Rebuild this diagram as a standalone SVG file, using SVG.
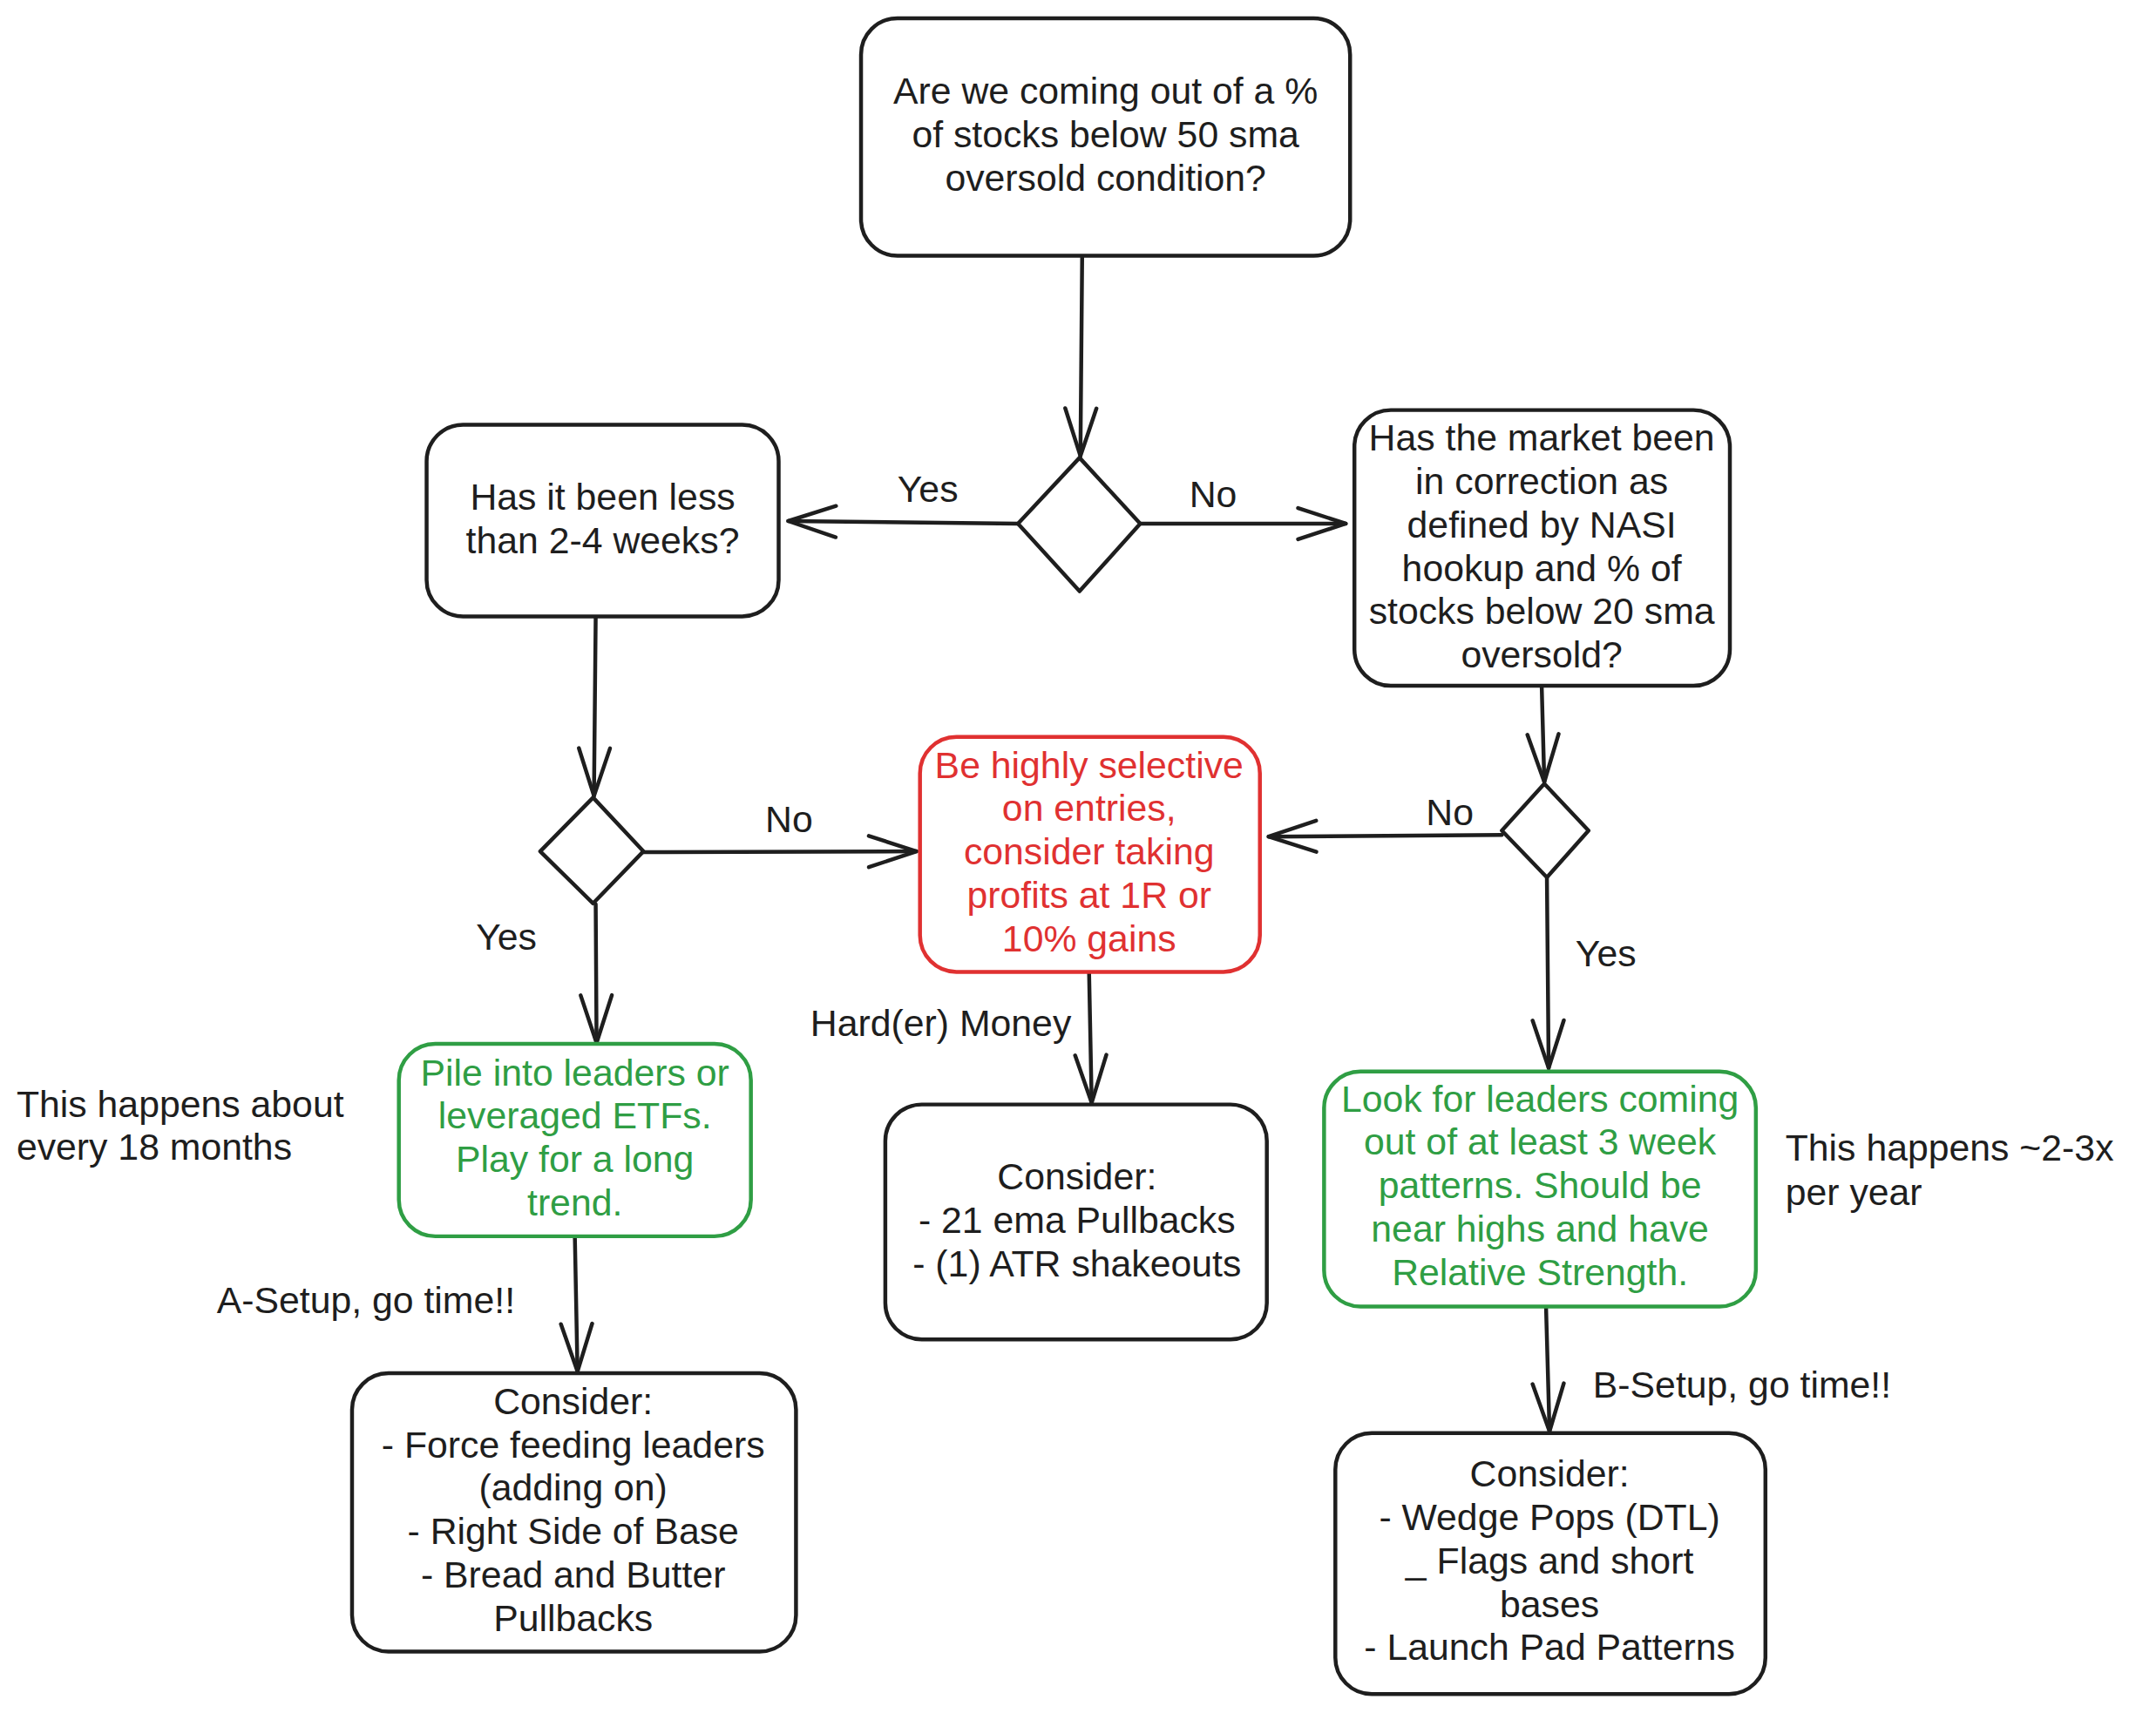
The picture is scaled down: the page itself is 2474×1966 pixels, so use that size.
<svg xmlns="http://www.w3.org/2000/svg" width="2474" height="1966" viewBox="0 0 2474 1966">
<style>
.bg{fill:#ffffff}
.box{fill:none;stroke:#1e1e1e;stroke-width:4.5;stroke-linejoin:round}
.gbox{fill:none;stroke:#2f9e44;stroke-width:4.5}
.rbox{fill:none;stroke:#e03131;stroke-width:4.5}
.t{font-family:"Liberation Sans","DejaVu Sans",sans-serif;font-size:43px;fill:#1e1e1e;text-anchor:middle}
.tl{text-anchor:start}
.g{fill:#2f9e44}
.r{fill:#e03131}
.c{fill:none;stroke:#1e1e1e;stroke-width:4.5;stroke-linecap:round}
</style>
<defs>
<marker id="ah" markerUnits="userSpaceOnUse" viewBox="-60 -25 70 50" refX="0" refY="0" markerWidth="70" markerHeight="50" orient="auto">
<path d="M -55 -18 L 0 0 L -55 18" fill="none" stroke="#1e1e1e" stroke-width="4.5" stroke-linecap="round" stroke-linejoin="round"/>
</marker>
</defs>
<rect class="bg" x="0" y="0" width="2474" height="1966"/>
<g id="diagram" transform="scale(0.995)">
<g id="connectors">
<line class="c" x1="1248" y1="297" x2="1246" y2="526" marker-end="url(#ah)"/>
<line class="c" x1="1174" y1="604" x2="909" y2="601" marker-end="url(#ah)"/>
<line class="c" x1="1315" y1="604" x2="1552" y2="604" marker-end="url(#ah)"/>
<line class="c" x1="687" y1="712" x2="685" y2="918" marker-end="url(#ah)"/>
<line class="c" x1="742" y1="983" x2="1057" y2="982" marker-end="url(#ah)"/>
<line class="c" x1="1778" y1="792" x2="1781" y2="902" marker-end="url(#ah)"/>
<line class="c" x1="1732" y1="963" x2="1463" y2="965" marker-end="url(#ah)"/>
<line class="c" x1="1784" y1="1013" x2="1786" y2="1232" marker-end="url(#ah)"/>
<line class="c" x1="687" y1="1043" x2="688" y2="1203" marker-end="url(#ah)"/>
<line class="c" x1="663" y1="1428" x2="666" y2="1582" marker-end="url(#ah)"/>
<line class="c" x1="1256" y1="1122" x2="1259" y2="1272" marker-end="url(#ah)"/>
<line class="c" x1="1783" y1="1508" x2="1787" y2="1651" marker-end="url(#ah)"/>
<text class="t" x="1070" y="579">Yes</text>
<text class="t" x="1399" y="585">No</text>
<text class="t" x="910" y="960">No</text>
<text class="t" x="1672" y="952">No</text>
<text class="t" x="1852" y="1115">Yes</text>
<text class="t" x="584" y="1095">Yes</text>
<text class="t" x="422" y="1515">A-Setup, go time!!</text>
<text class="t" x="1085" y="1195">Hard(er) Money</text>
<text class="t tl" x="1837" y="1612">B-Setup, go time!!</text>
</g>

<g id="n_top">
<rect class="box" x="993" y="21" width="564" height="274" rx="42"/>
<text class="t" x="1275" y="120">Are we coming out of a %</text>
<text class="t" x="1275" y="170">of stocks below 50 sma</text>
<text class="t" x="1275" y="220">oversold condition?</text>
</g>

<g id="n_d1">
<path class="box" d="M 1245 528 L 1315 604 L 1245 682 L 1174 604 Z"/>
</g>

<g id="n_less">
<rect class="box" x="492" y="490" width="406" height="221" rx="42"/>
<text class="t" x="695" y="588">Has it been less</text>
<text class="t" x="695" y="638">than 2-4 weeks?</text>
</g>

<g id="n_corr">
<rect class="box" x="1562" y="473" width="433" height="318" rx="42"/>
<text class="t" x="1778" y="520">Has the market been</text>
<text class="t" x="1778" y="570">in correction as</text>
<text class="t" x="1778" y="620">defined by NASI</text>
<text class="t" x="1778" y="670">hookup and % of</text>
<text class="t" x="1778" y="720">stocks below 20 sma</text>
<text class="t" x="1778" y="770">oversold?</text>
</g>

<g id="n_d2">
<path class="box" d="M 684 920 L 742 982 L 684 1042 L 623 982 Z"/>
</g>

<g id="n_d3">
<path class="box" d="M 1781 904 L 1832 958 L 1784 1012 L 1732 958 Z"/>
</g>

<g id="n_red">
<rect class="rbox" x="1061" y="850" width="392" height="271" rx="42"/>
<text class="t r" x="1256" y="897">Be highly selective</text>
<text class="t r" x="1256" y="947">on entries,</text>
<text class="t r" x="1256" y="997">consider taking</text>
<text class="t r" x="1256" y="1047">profits at 1R or</text>
<text class="t r" x="1256" y="1097">10% gains</text>
</g>

<g id="n_gleft">
<rect class="gbox" x="460" y="1204" width="406" height="222" rx="42"/>
<text class="t g" x="663" y="1252">Pile into leaders or</text>
<text class="t g" x="663" y="1302">leveraged ETFs.</text>
<text class="t g" x="663" y="1352">Play for a long</text>
<text class="t g" x="663" y="1402">trend.</text>
</g>

<g id="n_note_left">
<text class="t tl" x="19" y="1288">This happens about</text>
<text class="t tl" x="19" y="1338">every 18 months</text>
</g>

<g id="n_bl">
<rect class="box" x="406" y="1584" width="512" height="321" rx="42"/>
<text class="t" x="661" y="1631">Consider:</text>
<text class="t" x="661" y="1681">- Force feeding leaders</text>
<text class="t" x="661" y="1731">(adding on)</text>
<text class="t" x="661" y="1781">- Right Side of Base</text>
<text class="t" x="661" y="1831">- Bread and Butter</text>
<text class="t" x="661" y="1881">Pullbacks</text>
</g>

<g id="n_mid">
<rect class="box" x="1021" y="1274" width="440" height="271" rx="42"/>
<text class="t" x="1242" y="1372">Consider:</text>
<text class="t" x="1242" y="1422">- 21 ema Pullbacks</text>
<text class="t" x="1242" y="1472">- (1) ATR shakeouts</text>
</g>

<g id="n_gright">
<rect class="gbox" x="1527" y="1236" width="498" height="271" rx="42"/>
<text class="t g" x="1776" y="1282">Look for leaders coming</text>
<text class="t g" x="1776" y="1332">out of at least 3 week</text>
<text class="t g" x="1776" y="1382">patterns.  Should be</text>
<text class="t g" x="1776" y="1432">near highs and have</text>
<text class="t g" x="1776" y="1482">Relative Strength.</text>
</g>

<g id="n_note_right">
<text class="t tl" x="2059" y="1339">This happens ~2-3x</text>
<text class="t tl" x="2059" y="1390">per year</text>
</g>

<g id="n_br">
<rect class="box" x="1540" y="1653" width="496" height="301" rx="42"/>
<text class="t" x="1787" y="1715">Consider:</text>
<text class="t" x="1787" y="1765">- Wedge Pops (DTL)</text>
<text class="t" x="1787" y="1815">_ Flags and short</text>
<text class="t" x="1787" y="1865">bases</text>
<text class="t" x="1787" y="1915">- Launch Pad Patterns</text>
</g>
</g>
</svg>
